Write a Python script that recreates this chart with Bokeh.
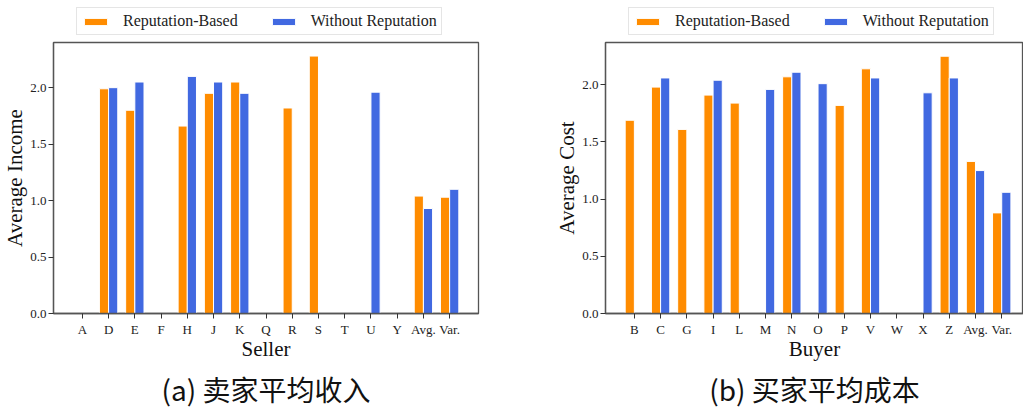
from bokeh.plotting import figure
from bokeh.models import (ColumnDataSource, FixedTicker, Legend, LegendItem, Title,
                          Range1d, NumeralTickFormatter)
from bokeh.transform import dodge
from bokeh.layouts import row, column
from bokeh.embed import file_html
from bokeh.resources import INLINE

# ---------------- data ----------------
seller_names = ["A", "D", "E", "F", "H", "J", "K", "Q", "R", "S", "T", "U", "Y", "Avg.", "Var."]
seller_reputation = [0, 1.99, 1.80, 0, 1.66, 1.95, 2.05, 0, 1.82, 2.28, 0, 0, 0, 1.04, 1.03]
seller_without = [0, 2.00, 2.05, 0, 2.10, 2.05, 1.95, 0, 0, 0, 0, 1.96, 0, 0.93, 1.10]

buyer_names = ["B", "C", "G", "I", "L", "M", "N", "O", "P", "V", "W", "X", "Z", "Avg.", "Var."]
buyer_reputation = [1.69, 1.98, 1.61, 1.91, 1.84, 0, 2.07, 0, 1.82, 2.14, 0, 0, 2.25, 1.33, 0.88]
buyer_without = [0, 2.06, 0, 2.04, 0, 1.96, 2.11, 2.01, 0, 2.06, 0, 1.93, 2.06, 1.25, 1.06]

y_ticks = [0.0, 0.5, 1.0, 1.5, 2.0]
series_labels = ["Reputation-Based", "Without Reputation"]

# ---------------- style ----------------
SERIF = "Liberation Serif"
CJK = "Noto Sans CJK SC"
ORANGE = "#FF8C00"
BLUE = "#4169E1"
SPINE = "#555555"
BAR_W = 0.35
LEG_H = 41
MAIN_H = 371
FRAME_H = 274


def make_legend_fig(width):
    lf = figure(width=width, height=LEG_H, output_backend="svg", toolbar_location=None,
                x_range=Range1d(0, 1), y_range=Range1d(0, 1),
                x_axis_location=None, y_axis_location=None,
                min_border_left=0, min_border_right=0, min_border_top=0, min_border_bottom=0)
    lf.outline_line_color = None
    lf.grid.visible = False
    # legend-key renderers only (no visible bar: top is NaN)
    keys = ColumnDataSource(dict(x=[0.5], top=[float("nan")]))
    k1 = lf.vbar(x="x", top="top", width=0.1, source=keys, fill_color=ORANGE, line_color="white")
    k2 = lf.vbar(x="x", top="top", width=0.1, source=keys, fill_color=BLUE, line_color="white")
    legend = Legend(items=[LegendItem(label=series_labels[0], renderers=[k1]),
                           LegendItem(label=series_labels[1], renderers=[k2])],
                    orientation="horizontal", location=(23, 6),
                    label_text_font=SERIF, label_text_font_size="16px",
                    label_text_color="#222222",
                    glyph_width=29, glyph_height=9, label_standoff=13, spacing=31,
                    padding=4, margin=0,
                    border_line_color="#cccccc", border_line_width=1,
                    background_fill_alpha=1.0)
    lf.add_layout(legend)
    return lf


def make_panel(names, rep, wo, xlabel, ylabel, caption, width, mb_right, x_end, y_end):
    src = ColumnDataSource(dict(idx=list(range(len(names))), rep=rep, wo=wo))
    p = figure(width=width, height=MAIN_H, output_backend="svg", toolbar_location=None,
               x_range=Range1d(-1.1, x_end), y_range=Range1d(0, y_end),
               min_border_left=52, min_border_right=mb_right,
               min_border_top=1, min_border_bottom=MAIN_H - 1 - FRAME_H)
    p.vbar(x=dodge("idx", -BAR_W / 2), top="rep", width=BAR_W, source=src,
           fill_color=ORANGE, line_color="white", line_width=1)
    p.vbar(x=dodge("idx", BAR_W / 2), top="wo", width=BAR_W, source=src,
           fill_color=BLUE, line_color="white", line_width=1)

    p.xgrid.visible = False
    p.ygrid.visible = False
    p.outline_line_color = SPINE
    p.outline_line_width = 1.3
    p.background_fill_color = "white"

    p.xaxis.ticker = FixedTicker(ticks=list(range(len(names))))
    p.xaxis.major_label_overrides = {i: n for i, n in enumerate(names)}
    p.yaxis.ticker = FixedTicker(ticks=y_ticks)
    p.yaxis.formatter = NumeralTickFormatter(format="0.0")
    p.xaxis.axis_label = xlabel
    p.yaxis.axis_label = ylabel

    for ax in (p.xaxis[0], p.yaxis[0]):
        ax.axis_line_color = SPINE
        ax.axis_line_width = 1.3
        ax.major_tick_line_color = "#333333"
        ax.major_tick_line_width = 1
        ax.major_tick_out = 5
        ax.major_tick_in = 0
        ax.minor_tick_line_color = None
        ax.major_label_text_font = SERIF
        ax.major_label_text_font_size = "13px"
        ax.major_label_text_color = "#222222"
        ax.major_label_standoff = 3
        ax.axis_label_text_font = SERIF
        ax.axis_label_text_font_size = "21px"
        ax.axis_label_text_font_style = "normal"
        ax.axis_label_text_color = "#111111"
    p.yaxis.major_label_standoff = 2
    p.yaxis.axis_label_standoff = 0
    p.xaxis.axis_label_standoff = -3

    cap = Title(text=caption, align="center", text_font=CJK, text_font_size="28px",
                text_font_style="normal", text_color="#111111", standoff=7)
    p.add_layout(cap, "below")
    return p


p1 = make_panel(seller_names, seller_reputation, seller_without, "Seller", "Average Income",
                "(a) 卖家平均收入", 552, 74, 15.1, 2.40)
p2 = make_panel(buyer_names, buyer_reputation, buyer_without, "Buyer", "Average Cost",
                "(b) 买家平均成本", 471, 0, 14.83, 2.37)

layout = row(column(make_legend_fig(552), p1), column(make_legend_fig(471), p2))
open("out.html", "w").write(file_html(layout, INLINE))
